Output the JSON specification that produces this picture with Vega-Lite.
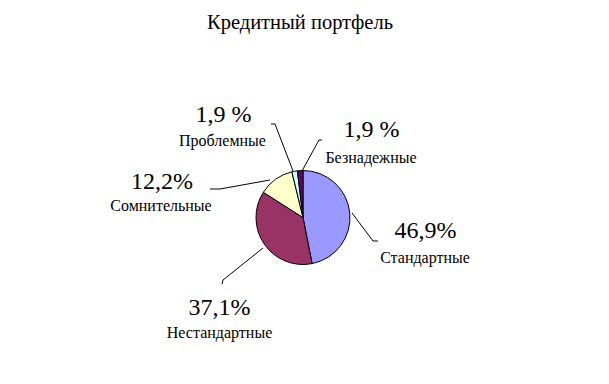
{
  "$schema": "https://vega.github.io/schema/vega-lite/v6.json",
  "autosize": "none",
  "width": 606,
  "height": 333,
  "padding": {"left": 0, "right": 3, "top": 51, "bottom": 0},
  "background": "white",
  "config": {"view": {"stroke": null}, "font": "Liberation Serif"},
  "datasets": {
    "pie": [
      {"cat": "Стандартные", "val": 46.9, "ord": 1},
      {"cat": "Нестандартные", "val": 37.1, "ord": 2},
      {"cat": "Сомнительные", "val": 12.2, "ord": 3},
      {"cat": "Проблемные", "val": 1.9, "ord": 4},
      {"cat": "Безнадежные", "val": 1.9, "ord": 5}
    ],
    "labels": [
      {"txt": "Кредитный портфель", "kind": "title", "dx": -3, "dy": 194.5},
      {"txt": "46,9%", "kind": "pct", "dx": 122.5, "dy": -13.5},
      {"txt": "Стандартные", "kind": "name", "dx": 122, "dy": -40},
      {"txt": "37,1%", "kind": "pct", "dx": -83.5, "dy": -90.5},
      {"txt": "Нестандартные", "kind": "name", "dx": -83.5, "dy": -115.5},
      {"txt": "12,2%", "kind": "pct", "dx": -141, "dy": 35.5},
      {"txt": "Сомнительные", "kind": "name", "dx": -142, "dy": 11.5},
      {"txt": "1,9 %", "kind": "pct", "dx": -79.5, "dy": 102.5},
      {"txt": "Проблемные", "kind": "name", "dx": -80.5, "dy": 76.5},
      {"txt": "1,9 %", "kind": "pct", "dx": 68.5, "dy": 87.5},
      {"txt": "Безнадежные", "kind": "name", "dx": 68, "dy": 59.5}
    ],
    "lines": [
      {"grp": "Проблемные", "i": 1, "dx": -32, "dy": 93.5},
      {"grp": "Проблемные", "i": 2, "dx": -28, "dy": 93.5},
      {"grp": "Проблемные", "i": 3, "dx": -10, "dy": 46.5},
      {"grp": "Безнадежные", "i": 1, "dx": 19, "dy": 77.5},
      {"grp": "Безнадежные", "i": 2, "dx": 16, "dy": 77.5},
      {"grp": "Безнадежные", "i": 3, "dx": -1, "dy": 46.5},
      {"grp": "Сомнительные", "i": 1, "dx": -93, "dy": 28.5},
      {"grp": "Сомнительные", "i": 2, "dx": -83, "dy": 28.5},
      {"grp": "Сомнительные", "i": 3, "dx": -33, "dy": 37.5},
      {"grp": "Стандартные", "i": 1, "dx": 49, "dy": 4.5},
      {"grp": "Стандартные", "i": 2, "dx": 70, "dy": -23.5},
      {"grp": "Стандартные", "i": 3, "dx": 75, "dy": -23.5},
      {"grp": "Нестандартные", "i": 1, "dx": -40, "dy": -30.5},
      {"grp": "Нестандартные", "i": 2, "dx": -80, "dy": -62.5},
      {"grp": "Нестандартные", "i": 3, "dx": -81, "dy": -66.5}
    ]
  },
  "resolve": {"scale": {"x": "shared", "y": "shared"}},
  "layer": [
    {
      "data": {"name": "pie"},
      "mark": {"type": "arc", "outerRadius": 47, "stroke": "black", "strokeWidth": 1},
      "encoding": {
        "theta": {"field": "val", "type": "quantitative", "stack": true},
        "order": {"field": "ord", "type": "quantitative"},
        "color": {"field": "cat", "type": "nominal", "legend": null,
          "scale": {"domain": ["Стандартные", "Нестандартные", "Сомнительные", "Проблемные", "Безнадежные"],
                    "range": ["#9999FF", "#993366", "#FFFFCC", "#CCFFFF", "#660066"]}}
      }
    },
    {
      "data": {"name": "lines"},
      "mark": {"type": "line", "color": "black", "strokeWidth": 1},
      "encoding": {
        "x": {"field": "dx", "type": "quantitative", "axis": null, "scale": {"domain": [-303, 303], "nice": false, "zero": false}},
        "y": {"field": "dy", "type": "quantitative", "axis": null, "scale": {"domain": [-166.5, 166.5], "nice": false, "zero": false}},
        "detail": {"field": "grp", "type": "nominal"},
        "order": {"field": "i", "type": "quantitative"}
      }
    },
    {
      "data": {"name": "labels"},
      "transform": [{"filter": "datum.kind === 'title'"}],
      "mark": {"type": "text", "font": "Liberation Serif", "fontSize": 20.5, "color": "black", "align": "center", "baseline": "middle"},
      "encoding": {
        "x": {"field": "dx", "type": "quantitative", "axis": null},
        "y": {"field": "dy", "type": "quantitative", "axis": null},
        "text": {"field": "txt"}
      }
    },
    {
      "data": {"name": "labels"},
      "transform": [{"filter": "datum.kind === 'pct'"}],
      "mark": {"type": "text", "font": "Liberation Serif", "fontSize": 24, "color": "black", "align": "center", "baseline": "middle"},
      "encoding": {
        "x": {"field": "dx", "type": "quantitative", "axis": null},
        "y": {"field": "dy", "type": "quantitative", "axis": null},
        "text": {"field": "txt"}
      }
    },
    {
      "data": {"name": "labels"},
      "transform": [{"filter": "datum.kind === 'name'"}],
      "mark": {"type": "text", "font": "Liberation Serif", "fontSize": 16, "color": "black", "align": "center", "baseline": "middle"},
      "encoding": {
        "x": {"field": "dx", "type": "quantitative", "axis": null},
        "y": {"field": "dy", "type": "quantitative", "axis": null},
        "text": {"field": "txt"}
      }
    }
  ]
}
